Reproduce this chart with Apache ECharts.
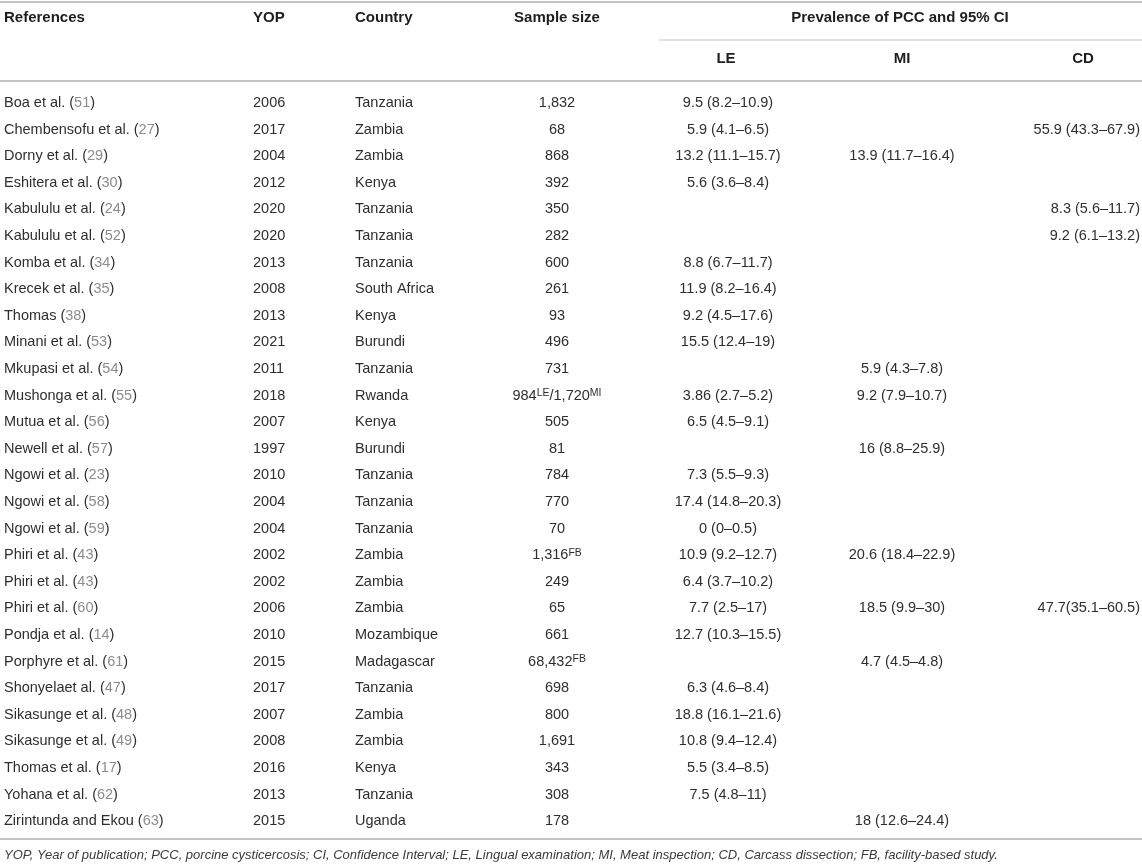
<!DOCTYPE html>
<html><head><meta charset="utf-8">
<script src="https://cdn.jsdelivr.net/npm/echarts@6/dist/echarts.min.js"></script>
<style>html,body{margin:0;padding:0;background:#fff}#c{width:1142px;height:864px}</style>
</head><body><div id="c"></div>
<script>
// ---- data ----
const refNames = ["Boa et al.","Chembensofu et al.","Dorny et al.","Eshitera et al.","Kabululu et al.","Kabululu et al.","Komba et al.","Krecek et al.","Thomas","Minani et al.","Mkupasi et al.","Mushonga et al.","Mutua et al.","Newell et al.","Ngowi et al.","Ngowi et al.","Ngowi et al.","Phiri et al.","Phiri et al.","Phiri et al.","Pondja et al.","Porphyre et al.","Shonyelaet al.","Sikasunge et al.","Sikasunge et al.","Thomas et al.","Yohana et al.","Zirintunda and Ekou"];
const refNumbers = ["51","27","29","30","24","52","34","35","38","53","54","55","56","57","23","58","59","43","43","60","14","61","47","48","49","17","62","63"];
const years = ["2006","2017","2004","2012","2020","2020","2013","2008","2013","2021","2011","2018","2007","1997","2010","2004","2004","2002","2002","2006","2010","2015","2017","2007","2008","2016","2013","2015"];
const countries = ["Tanzania","Zambia","Zambia","Kenya","Tanzania","Tanzania","Tanzania","South Africa","Kenya","Burundi","Tanzania","Rwanda","Kenya","Burundi","Tanzania","Tanzania","Tanzania","Zambia","Zambia","Zambia","Mozambique","Madagascar","Tanzania","Zambia","Zambia","Kenya","Tanzania","Uganda"];
const sampleSizes = ["1,832","68","868","392","350","282","600","261","93","496","731","984^LE/1,720^MI","505","81","784","770","70","1,316^FB","249","65","661","68,432^FB","698","800","1,691","343","308","178"];
const prevLE = ["9.5 (8.2–10.9)","5.9 (4.1–6.5)","13.2 (11.1–15.7)","5.6 (3.6–8.4)","","","8.8 (6.7–11.7)","11.9 (8.2–16.4)","9.2 (4.5–17.6)","15.5 (12.4–19)","","3.86 (2.7–5.2)","6.5 (4.5–9.1)","","7.3 (5.5–9.3)","17.4 (14.8–20.3)","0 (0–0.5)","10.9 (9.2–12.7)","6.4 (3.7–10.2)","7.7 (2.5–17)","12.7 (10.3–15.5)","","6.3 (4.6–8.4)","18.8 (16.1–21.6)","10.8 (9.4–12.4)","5.5 (3.4–8.5)","7.5 (4.8–11)",""];
const prevMI = ["","","13.9 (11.7–16.4)","","","","","","","","5.9 (4.3–7.8)","9.2 (7.9–10.7)","","16 (8.8–25.9)","","","","20.6 (18.4–22.9)","","18.5 (9.9–30)","","4.7 (4.5–4.8)","","","","","","18 (12.6–24.4)"];
const prevCD = ["","55.9 (43.3–67.9)","","","8.3 (5.6–11.7)","9.2 (6.1–13.2)","","","","","","","","","","","","","","47.7(35.1–60.5)","","","","","","","",""];
const headerTop = ["References","YOP","Country","Sample size","Prevalence of PCC and 95% CI"];
const headerSub = ["LE","MI","CD"];
const footnote = "YOP, Year of publication; PCC, porcine cysticercosis; CI, Confidence Interval; LE, Lingual examination; MI, Meat inspection; CD, Carcass dissection; FB, facility-based study.";

// ---- styles ----
const FONT = "'Liberation Sans', Arial, Helvetica, sans-serif";
const FS = 14.5;
const HFS = 15;
const TXT = '#2e2e2e';
const GRAY = '#8c8c8c';
const RULE = '#c4c4c4';
const RICH = {
  g: {fill: GRAY, fontSize: FS, fontFamily: FONT},
  s: {fill: TXT, fontSize: 10.5, fontFamily: FONT, verticalAlign: 'top'}
};

const fmtRef = (i) => refNames[i] + ' (' + '{g|' + refNumbers[i] + '}' + ')';
const fmtSup = (v) => v.replace(/\^([A-Z]+)/g, '{s|$1}');
const plain = (v) => v;

function col(values, x, align, fmt) {
  return {
    type: 'custom', coordinateSystem: 'cartesian2d', clip: false, silent: true, animation: false,
    data: values.map((v, i) => [0, i]),
    encode: {x: 0, y: 1},
    renderItem: function (params, api) {
      const i = params.dataIndex;
      const v = values[i];
      if (!v) return null;
      const p = api.coord([x, i]);
      return {
        type: 'text', x: p[0], y: p[1],
        style: {
          text: fmt === fmtRef ? fmtRef(i) : fmt(v),
          fill: TXT, fontSize: FS, fontFamily: FONT,
          align: align, verticalAlign: 'middle', rich: RICH
        }
      };
    }
  };
}

const chart = echarts.init(document.getElementById('c'), null, {renderer: 'canvas'});
const hdr = (t, x, y, align) => ({type: 'text', x: x, y: y, style: {text: t, fill: '#1e1e1e', fontSize: HFS, fontWeight: 'bold', fontFamily: FONT, align: align, verticalAlign: 'middle'}, silent: true});
const rule = (x1, y, x2, w) => ({type: 'line', shape: {x1: x1, y1: y, x2: x2, y2: y}, style: {stroke: RULE, lineWidth: w}, silent: true});

chart.setOption({
  animation: false,
  backgroundColor: '#fff',
  grid: {left: 0, right: 0, top: 89.7, bottom: 29.5, containLabel: false},
  xAxis: {type: 'value', min: 0, max: 1142, show: false},
  yAxis: {type: 'category', inverse: true, show: false, data: refNames.map((n, i) => i)},
  graphic: [
    rule(0, 2, 1142, 2),
    rule(659, 40, 1142, 1.2),
    rule(0, 81, 1142, 2),
    rule(0, 839, 1142, 2),
    hdr(headerTop[0], 4, 18, 'left'),
    hdr(headerTop[1], 253, 18, 'left'),
    hdr(headerTop[2], 355, 18, 'left'),
    hdr(headerTop[3], 557, 18, 'center'),
    hdr(headerTop[4], 900, 18, 'center'),
    hdr(headerSub[0], 726, 59, 'center'),
    hdr(headerSub[1], 902, 59, 'center'),
    hdr(headerSub[2], 1083, 59, 'center'),
    {type: 'text', x: 4, y: 855, silent: true, style: {text: footnote, fill: '#3a3a3a', fontSize: 13, fontStyle: 'italic', fontFamily: FONT, align: 'left', verticalAlign: 'middle'}}
  ],
  series: [
    col(refNames, 4, 'left', fmtRef),
    col(years, 253, 'left', plain),
    col(countries, 355, 'left', plain),
    col(sampleSizes, 557, 'center', fmtSup),
    col(prevLE, 728, 'center', plain),
    col(prevMI, 902, 'center', plain),
    col(prevCD, 1140, 'right', plain)
  ]
});
</script>
</body></html>
